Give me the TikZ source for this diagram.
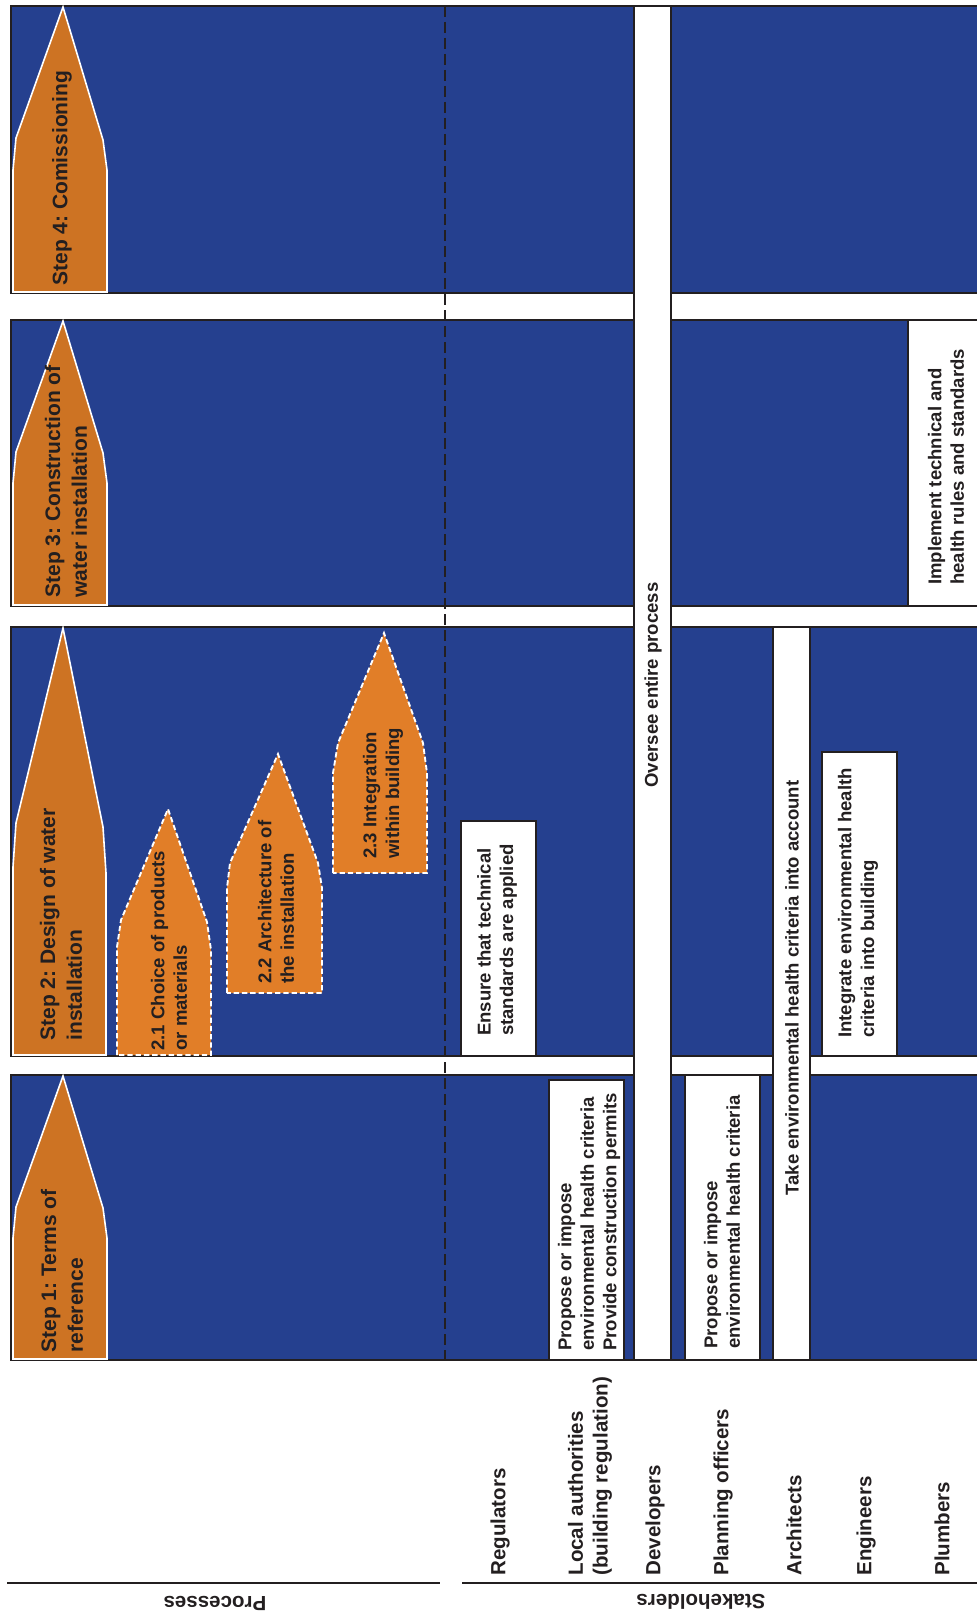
\documentclass[tikz,border=0pt]{standalone}
\usepackage{fontspec}
\setmainfont{Liberation Sans}
\frenchspacing

\definecolor{panelblue}{RGB}{37,64,143}
\definecolor{steporange}{RGB}{205,115,35}
\definecolor{suborange}{RGB}{225,126,40}
\definecolor{inkdark}{RGB}{35,31,32}

\tikzset{every picture/.style={line width=0.75pt}}
\tikzset{
  panel/.style={draw=inkdark, fill=panelblue, line width=1.8pt},
  stepshape/.style={draw=white, fill=steporange, line width=1.2pt, line join=miter},
  subshape/.style={draw=white, fill=suborange, line width=1.4pt, dash pattern=on 4pt off 2.2pt},
  actbox/.style={draw=inkdark, fill=white, line width=1.8pt},
  divider/.style={draw=inkdark, line width=1.9pt, dash pattern=on 8pt off 4pt},
  rule/.style={draw=inkdark, line width=1.8pt},
  steplabel/.style={rotate=90, anchor=west, align=left, inner sep=0pt, text=inkdark, font={\fontsize{15.75}{20}\selectfont\bfseries}},
  sublabel/.style={rotate=90, anchor=west, align=left, inner sep=0pt, text=inkdark, font={\fontsize{13.9}{16.9}\selectfont\bfseries}},
  boxlabel/.style={rotate=90, align=left, inner sep=0pt, text=inkdark, font={\fontsize{13.9}{16.9}\selectfont\bfseries}},
  rolelabel/.style={rotate=90, anchor=west, align=left, inner sep=0pt, text=inkdark, font={\fontsize{15.4}{18.5}\selectfont\bfseries}},
  headlabel/.style={rotate=180, inner sep=0pt, text=inkdark, font={\fontsize{15.4}{18.5}\selectfont\bfseries}},
}

\begin{document}
\begin{tikzpicture}[x=0.75pt,y=0.75pt,yscale=-1,xscale=1]
\useasboundingbox (0,0) rectangle (977,1616);
\clip (0,0) rectangle (977,1616);

%Shape: Rectangle (step 4 band)
\draw [panel] (11,6) rectangle (990,293) ;
%Shape: Rectangle (step 3 band)
\draw [panel] (11,320) rectangle (990,606) ;
%Shape: Rectangle (step 2 band)
\draw [panel] (11,627) rectangle (990,1056) ;
%Shape: Rectangle (step 1 band)
\draw [panel] (11,1075) rectangle (990,1360) ;

%Straight Lines (processes | stakeholders)
\draw [divider] (445,6) -- (445,1365) ;

%Shape: Polygon (step 4)
\draw [stepshape] (13,292) -- (13,170) -- (16,138) -- (63,7) -- (103,140) -- (107,170) -- (107,292) -- cycle ;
%Shape: Polygon (step 3)
\draw [stepshape] (13,605) -- (13,483) -- (16,452) -- (63,321) -- (103,453) -- (107,483) -- (107,605) -- cycle ;
%Shape: Polygon (step 2)
\draw [stepshape] (13,1055) -- (13,867) -- (16,823) -- (63,628) -- (103,827) -- (106,873) -- (106,1055) -- cycle ;
%Shape: Polygon (step 1)
\draw [stepshape] (13,1359) -- (13,1238) -- (16,1207) -- (63,1076) -- (103,1208) -- (107,1238) -- (107,1359) -- cycle ;

%Shape: Polygon (2.1)
\draw [subshape] (117,1055) -- (117,947) -- (121,920) -- (168,809) -- (207,922) -- (211,950) -- (211,1055) -- cycle ;
%Shape: Polygon (2.2)
\draw [subshape] (227,993) -- (227,888) -- (230,863) -- (278,754) -- (318,863) -- (322,888) -- (322,993) -- cycle ;
%Shape: Polygon (2.3)
\draw [subshape] (333,873) -- (333,773) -- (338,743) -- (384,633) -- (423,743) -- (427,773) -- (427,873) -- cycle ;

%Shape: Rectangle (developers bar)
\draw [actbox] (634,6) rectangle (671,1360) ;
%Shape: Rectangle (architects bar)
\draw [actbox] (773,627) rectangle (810,1360) ;
%Shape: Rectangle
\draw [actbox] (461,821) rectangle (536,1056) ;
%Shape: Rectangle
\draw [actbox] (549,1080) rectangle (624,1360) ;
%Shape: Rectangle
\draw [actbox] (685,1075) rectangle (760,1360) ;
%Shape: Rectangle
\draw [actbox] (822,752) rectangle (897,1056) ;
%Shape: Rectangle
\draw [actbox] (908,320) rectangle (990,606) ;

% Text Node
\draw (62,286) node [steplabel] (stepfour) {Step 4: Comissioning};
% Text Node
\draw (66,598) node [steplabel] (stepthree) {Step 3: Construction of\\water installation};
% Text Node
\draw (61,1041) node [steplabel] (steptwo) {Step 2: Design of water\\installation};
% Text Node
\draw (62,1353) node [steplabel] (stepone) {Step 1: Terms of\\reference};

% Text Node
\draw (169,1051) node [sublabel] (subone) {2.1 Choice of products\\or materials};
% Text Node
\draw (276,984) node [sublabel] (subtwo) {2.2 Architecture of\\the installation};
% Text Node
\draw (383,859) node [sublabel] (subthree) {2.3 Integration\\within building};

% Text Node
\draw (497,940) node [boxlabel] (ensure) {Ensure that technical\\standards are applied};
% Text Node
\draw (589,1222) node [boxlabel] (propose) {Propose or impose\\environmental health criteria\\Provide construction permits};
% Text Node
\draw (653,685) node [boxlabel] (oversee) {Oversee entire process};
% Text Node
\draw (722,1222) node [boxlabel] (proposeplan) {Propose or impose\\environmental health criteria};
% Text Node
\draw (792,988) node [boxlabel] (takeaccount) {Take environmental health criteria into account};
% Text Node
\draw (858,903) node [boxlabel] (integrate) {Integrate environmental health\\criteria into building};
% Text Node
\draw (946,467) node [boxlabel] (implement) {Implement technical and\\health rules and standards};

% Text Node
\draw (500,1576) node [rolelabel] (regulators) {Regulators};
% Text Node
\draw (590,1576) node [rolelabel] (localauth) {Local authorities\\(building regulation)};
% Text Node
\draw (655,1576) node [rolelabel] (developers) {Developers};
% Text Node
\draw (723,1576) node [rolelabel] (planners) {Planning officers};
% Text Node
\draw (794,1576) node [rolelabel] (architects) {Architects};
% Text Node
\draw (866,1576) node [rolelabel] (engineers) {Engineers};
% Text Node
\draw (942,1576) node [rolelabel] (plumbers) {Plumbers};

%Straight Lines
\draw [rule] (7,1583) -- (440,1583) ;
%Straight Lines
\draw [rule] (462,1583) -- (990,1583) ;

% Text Node
\draw (215,1603) node [headlabel] (processes) {Processes};
% Text Node
\draw (701,1602) node [headlabel] (stakeholders) {Stakeholders};
\end{tikzpicture}
\end{document}
